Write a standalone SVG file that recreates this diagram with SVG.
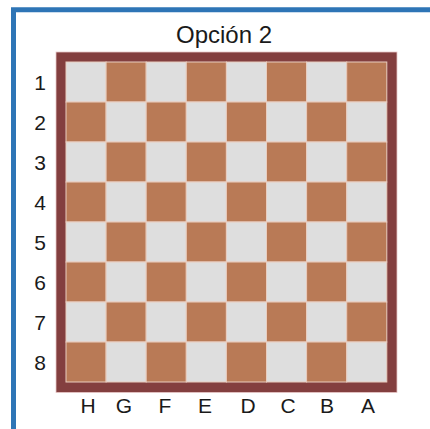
<svg xmlns="http://www.w3.org/2000/svg" width="430" height="429" viewBox="0 0 430 429">
  <defs>
    <style>
      .l { fill: #DEDEDE; stroke: #E9CDBF; stroke-width: 1; }
      .d { fill: #B97A56; stroke: #E9CDBF; stroke-width: 1; }
      .lbl { font-family: "Liberation Sans", Arial, sans-serif; font-size: 21px; fill: #1A1A1A; text-anchor: middle; }
      .title { font-family: "Liberation Sans", Arial, sans-serif; font-size: 24px; fill: #1A1A1A; text-anchor: middle; }
    </style>
    <rect id="sl" class="l" width="40.1" height="40"/>
    <rect id="sd" class="d" width="40.1" height="40"/>
  </defs>
  <rect width="430" height="429" fill="#FFFFFF"/>
  <g id="frame">
    <path d="M13.5 429 V9.8 H430" fill="none" stroke="#2E75B6" stroke-width="5"/>
  </g>
  <g id="title">
    <text class="title" x="224" y="43">Opción 2</text>
  </g>
  <g id="board">
    <rect x="56" y="52" width="341" height="340.5" fill="#833F3F" stroke="#E8C8C8" stroke-width="0.8"/>
    <g id="squares">
      <use href="#sl" x="66" y="62"/><use href="#sd" x="106.1" y="62"/><use href="#sl" x="146.2" y="62"/><use href="#sd" x="186.3" y="62"/><use href="#sl" x="226.4" y="62"/><use href="#sd" x="266.5" y="62"/><use href="#sl" x="306.6" y="62"/><use href="#sd" x="346.7" y="62"/>
      <use href="#sd" x="66" y="102"/><use href="#sl" x="106.1" y="102"/><use href="#sd" x="146.2" y="102"/><use href="#sl" x="186.3" y="102"/><use href="#sd" x="226.4" y="102"/><use href="#sl" x="266.5" y="102"/><use href="#sd" x="306.6" y="102"/><use href="#sl" x="346.7" y="102"/>
      <use href="#sl" x="66" y="142"/><use href="#sd" x="106.1" y="142"/><use href="#sl" x="146.2" y="142"/><use href="#sd" x="186.3" y="142"/><use href="#sl" x="226.4" y="142"/><use href="#sd" x="266.5" y="142"/><use href="#sl" x="306.6" y="142"/><use href="#sd" x="346.7" y="142"/>
      <use href="#sd" x="66" y="182"/><use href="#sl" x="106.1" y="182"/><use href="#sd" x="146.2" y="182"/><use href="#sl" x="186.3" y="182"/><use href="#sd" x="226.4" y="182"/><use href="#sl" x="266.5" y="182"/><use href="#sd" x="306.6" y="182"/><use href="#sl" x="346.7" y="182"/>
      <use href="#sl" x="66" y="222"/><use href="#sd" x="106.1" y="222"/><use href="#sl" x="146.2" y="222"/><use href="#sd" x="186.3" y="222"/><use href="#sl" x="226.4" y="222"/><use href="#sd" x="266.5" y="222"/><use href="#sl" x="306.6" y="222"/><use href="#sd" x="346.7" y="222"/>
      <use href="#sd" x="66" y="262"/><use href="#sl" x="106.1" y="262"/><use href="#sd" x="146.2" y="262"/><use href="#sl" x="186.3" y="262"/><use href="#sd" x="226.4" y="262"/><use href="#sl" x="266.5" y="262"/><use href="#sd" x="306.6" y="262"/><use href="#sl" x="346.7" y="262"/>
      <use href="#sl" x="66" y="302"/><use href="#sd" x="106.1" y="302"/><use href="#sl" x="146.2" y="302"/><use href="#sd" x="186.3" y="302"/><use href="#sl" x="226.4" y="302"/><use href="#sd" x="266.5" y="302"/><use href="#sl" x="306.6" y="302"/><use href="#sd" x="346.7" y="302"/>
      <use href="#sd" x="66" y="342"/><use href="#sl" x="106.1" y="342"/><use href="#sd" x="146.2" y="342"/><use href="#sl" x="186.3" y="342"/><use href="#sd" x="226.4" y="342"/><use href="#sl" x="266.5" y="342"/><use href="#sd" x="306.6" y="342"/><use href="#sl" x="346.7" y="342"/>
    </g>
  </g>
  <g id="row-labels">
    <text class="lbl" x="40" y="90">1</text>
    <text class="lbl" x="40" y="130">2</text>
    <text class="lbl" x="40" y="170">3</text>
    <text class="lbl" x="40" y="210">4</text>
    <text class="lbl" x="40" y="250">5</text>
    <text class="lbl" x="40" y="290">6</text>
    <text class="lbl" x="40" y="330">7</text>
    <text class="lbl" x="40" y="370">8</text>
  </g>
  <g id="col-labels">
    <text class="lbl" x="88" y="413">H</text>
    <text class="lbl" x="124" y="413">G</text>
    <text class="lbl" x="165" y="413">F</text>
    <text class="lbl" x="205" y="413">E</text>
    <text class="lbl" x="248" y="413">D</text>
    <text class="lbl" x="288" y="413">C</text>
    <text class="lbl" x="327" y="413">B</text>
    <text class="lbl" x="368" y="413">A</text>
  </g>
</svg>
